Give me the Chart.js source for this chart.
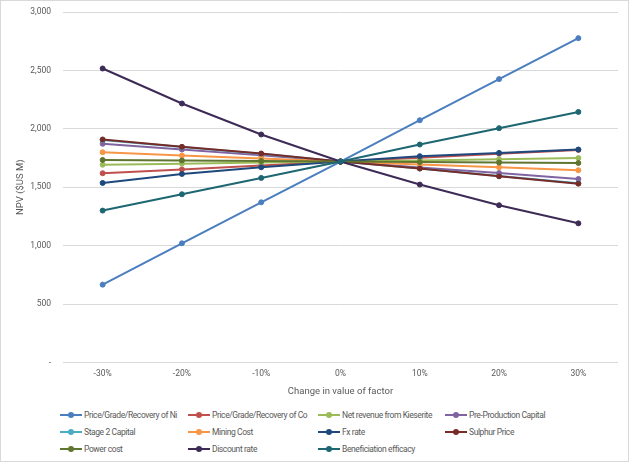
<!DOCTYPE html>
<html>
<head>
<meta charset="utf-8">
<script src="https://cdn.jsdelivr.net/npm/chart.js@4"></script>
<style>
  html, body { margin: 0; padding: 0; background: #fff; }
  #wrap { position: relative; width: 627px; height: 460px; border: 1px solid #d9d9d9; overflow: hidden; }
  #chartBox { position: absolute; left: 0; top: -6px; width: 627px; height: 410px; }
  #legend { position: absolute; left: 59px; top: 407px; width: 560px;
    display: grid; grid-template-columns: 128px 130px 127px 160px; row-gap: 4px;
    font-family: Roboto, sans-serif; font-size: 8.5px; letter-spacing: -0.4px; color: #595959; }
  .item { display: flex; align-items: center; white-space: nowrap; height: 13px; }
  .sw { position: relative; width: 22px; height: 2px; margin-right: 2px; }
  .sw i { position: absolute; left: 8px; top: -2px; width: 6px; height: 6px; border-radius: 50%; }
</style>
</head>
<body>
<div id="wrap">
  <div id="chartBox"><canvas id="myChart"></canvas></div>
  <div id="legend"></div>
</div>
<script>
var factors = ["-30%", "-20%", "-10%", "0%", "10%", "20%", "30%"];

var seriesNames = [
  "Price/Grade/Recovery of Ni",
  "Price/Grade/Recovery of Co",
  "Net revenue from Kieserite",
  "Pre-Production Capital",
  "Stage 2 Capital",
  "Mining Cost",
  "Fx rate",
  "Sulphur Price",
  "Power cost",
  "Discount rate",
  "Beneficiation efficacy"
];

var priceNi = [666, 1020, 1371, 1720, 2074, 2426, 2777];
var priceCo = [1620, 1653, 1687, 1720, 1753, 1787, 1820];
var kieserite = [1693, 1702, 1711, 1720, 1730, 1740, 1750];
var preProdCapital = [1872, 1823, 1773, 1720, 1670, 1622, 1571];
var stage2Capital = [1905, 1844, 1786, 1720, 1661, 1597, 1535];
var miningCost = [1800, 1772, 1746, 1720, 1695, 1671, 1646];
var fxRate = [1537, 1614, 1671, 1720, 1766, 1794, 1823];
var sulphurPrice = [1909, 1846, 1789, 1720, 1660, 1594, 1531];
var powerCost = [1734, 1729, 1725, 1720, 1716, 1712, 1708];
var discountRate = [2517, 2217, 1952, 1720, 1523, 1346, 1191];
var beneficiation = [1300, 1440, 1580, 1720, 1866, 2006, 2145];

var colors = ["#4a7ebf", "#c0504d", "#9bbb59", "#8064a2", "#4bacc6", "#f79646",
  "#1f497d", "#772c2a", "#5f7530", "#3d2b56", "#1d6672"];

var allSeries = [priceNi, priceCo, kieserite, preProdCapital, stage2Capital, miningCost,
  fxRate, sulphurPrice, powerCost, discountRate, beneficiation];

var datasets = [];
for (var i = 0; i < allSeries.length; i++) {
  datasets.push({
    label: seriesNames[i],
    data: allSeries[i],
    borderColor: colors[i],
    backgroundColor: colors[i],
    borderWidth: 2,
    pointRadius: 2.5,
    pointBorderWidth: 1,
    pointHoverRadius: 2.5,
    order: -i
  });
}

var fontFamily = "Roboto, sans-serif";
var fontSpec = { family: fontFamily, size: 8.5 };

new Chart(document.getElementById("myChart").getContext("2d"), {
  type: "line",
  data: { labels: factors, datasets: datasets },
  options: {
    responsive: true,
    maintainAspectRatio: false,
    animation: false,
    layout: { padding: { top: 0, right: 10, left: 10, bottom: 6 } },
    plugins: { legend: { display: false }, tooltip: { enabled: false } },
    scales: {
      x: {
        offset: true,
        grid: { display: false, drawTicks: false },
        border: { display: false },
        ticks: { color: "#595959", font: fontSpec, padding: 6 },
        title: { display: true, text: "Change in value of factor", color: "#595959",
          font: { family: fontFamily, size: 9.5 }, padding: { top: 1, bottom: 2 } }
      },
      y: {
        min: 0,
        max: 3000,
        grid: { color: "#d9d9d9", drawTicks: false },
        border: { display: false },
        afterFit: function (scale) { scale.width = 52; },
        ticks: {
          stepSize: 500,
          color: "#595959",
          font: fontSpec,
          padding: 12,
          callback: function (v) { return v === 0 ? "-" : v.toLocaleString("en-US"); }
        },
        title: { display: true, text: "NPV ($US M)", color: "#595959",
          font: { family: fontFamily, size: 9.5 }, padding: { top: 4, bottom: 6 } }
      }
    }
  }
});

var legendEl = document.getElementById("legend");
for (var j = 0; j < seriesNames.length; j++) {
  var item = document.createElement("div");
  item.className = "item";
  item.innerHTML = '<span class="sw" style="background:' + colors[j] + '"><i style="background:' +
    colors[j] + '"></i></span>' + seriesNames[j];
  legendEl.appendChild(item);
}
</script>
</body>
</html>
